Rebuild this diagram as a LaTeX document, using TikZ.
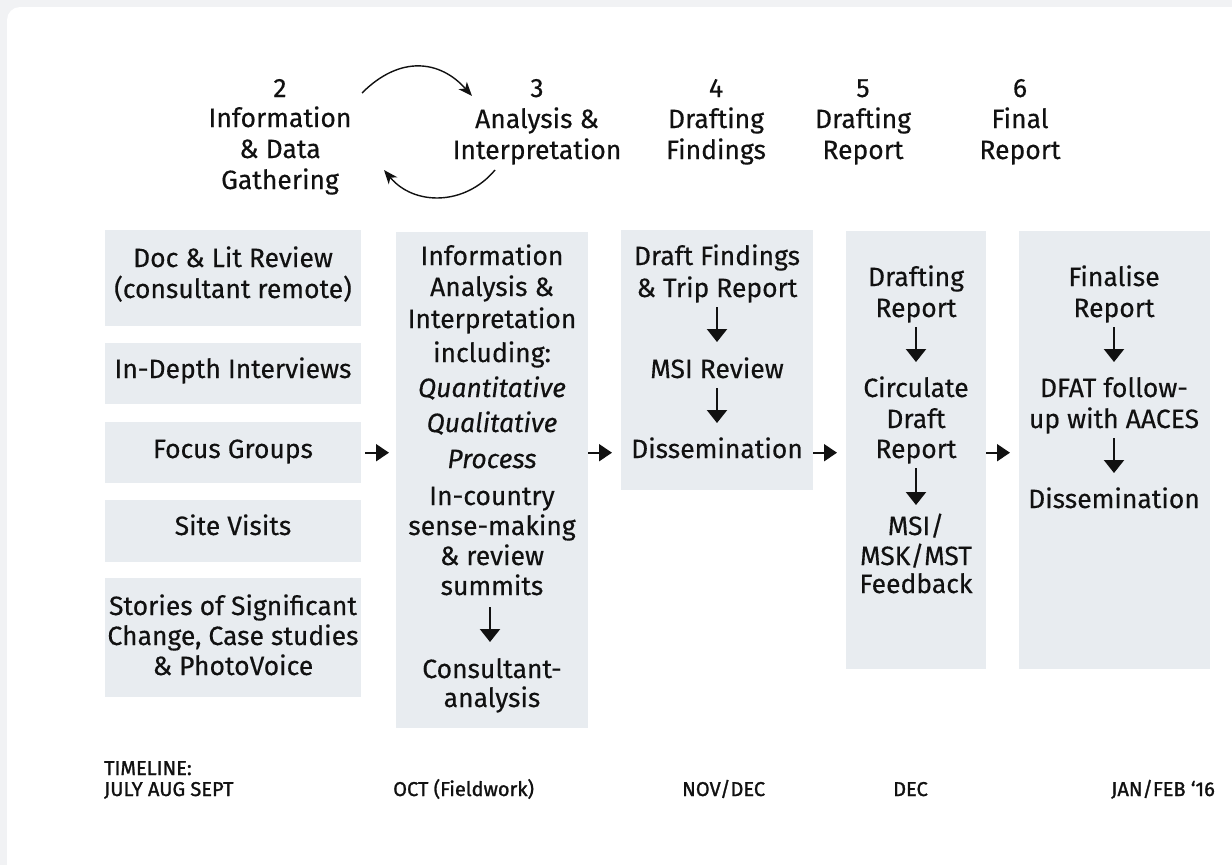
\documentclass[tikz,border=0pt]{standalone}
\usepackage{fontspec}
\setmainfont{Fira Sans}[FakeBold=0.35]
\newfontfamily\tlfont[FakeBold=1.3]{Fira Sans}
\usetikzlibrary{arrows.meta}
\definecolor{boxfill}{HTML}{E8ECF0}
\definecolor{outerbg}{HTML}{F1F2F4}
\definecolor{ink}{HTML}{111111}
\begin{document}
\begin{tikzpicture}[x=1pt,y=-1pt,
  box/.style={fill=boxfill, draw=none, inner sep=0pt, anchor=north west},
  txt/.style={font=\fontsize{26.5}{30}\selectfont, align=center, inner sep=0pt, anchor=base, text=ink},
  harrow/.style={draw=ink, line width=2pt, -{Triangle[length=13pt,width=17pt]}},
  varrow/.style={draw=ink, line width=2.2pt, -{Triangle[length=13pt,width=20pt]}},
  carrow/.style={draw=ink, line width=1.4pt, -{Stealth[length=14pt,width=11pt,inset=4pt]}},
  tl/.style={font=\tlfont\fontsize{20}{20}\selectfont, inner sep=0pt, anchor=base west, text=ink}
]
\useasboundingbox (0,0) rectangle (1232,865);
\fill[outerbg] (0,0) rectangle (1232,865);
\begin{scope}
\clip (0,0) rectangle (1232,865);
\fill[white, rounded corners=13pt] (7,7) rectangle (1250,880);
\end{scope}

% header (anchor = baseline of last line)
\node[txt] (h2) at (280,189) {2\\Information\\[1pt]\& Data\\[1pt]Gathering};
\node[txt] (h3) at (537,159) {3\\[1pt]Analysis \&\\[1pt]Interpretation};
\node[txt] (h4) at (716,159) {4\\[1pt]Drafting\\[1pt]Findings};
\node[txt] (h5) at (863,159) {5\\[1pt]Drafting\\[1pt]Report};
\node[txt] (h6) at (1020,159) {6\\[1pt]Final\\[1pt]Report};

\coordinate (ca1) at (362,93);
\coordinate (ca2) at (472,96);
\draw[carrow] (ca1) .. controls (400,55) and (440,60) .. (ca2);
\coordinate (cb1) at (495,170);
\coordinate (cb2) at (384,170);
\draw[carrow] (cb1) .. controls (465,206) and (414,206) .. (cb2);

% boxes
\node[box, minimum width=256pt, minimum height=96pt] (b1) at (105,230) {};
\node[box, minimum width=256pt, minimum height=61pt] (b2) at (105,343) {};
\node[box, minimum width=256pt, minimum height=61pt] (b3) at (105,422) {};
\node[box, minimum width=256pt, minimum height=62pt] (b4) at (105,500) {};
\node[box, minimum width=256pt, minimum height=119pt] (b5) at (105,578) {};
\node[box, minimum width=192pt, minimum height=496pt] (c2) at (396,232) {};
\node[box, minimum width=192pt, minimum height=260pt] (c3) at (621,230) {};
\node[box, minimum width=140pt, minimum height=438pt] (c4) at (846,231) {};
\node[box, minimum width=191pt, minimum height=438pt] (c5) at (1019,231) {};

% column 1 texts
\node[txt] (t1) at (233,298) {Doc \& Lit Review\\[1pt](consultant remote)};
\node[txt] (t2) at (233,378) {In-Depth Interviews};
\node[txt] (t3) at (233,458) {Focus Groups};
\node[txt] (t4) at (233,535) {Site Visits};
\node[txt] (t5) at (233,675) {Stories of Significant\\Change, Case studies\\\& PhotoVoice};

% column 2 texts
\node[txt] (u1) at (492,595) {Information\\[1pt]Analysis \&\\[2pt]Interpretation\\[4pt]including:\\[5pt]\textit{Quantitative}\\[5pt]\textit{Qualitative}\\[6pt]\textit{Process}\\[7pt]In-country\\sense-making\\\& review\\summits};
\node[txt] (u2) at (492,707) {Consultant-\\[-1pt]analysis};
\coordinate (v0a) at (490,607);
\coordinate (v0b) at (490,642);
\draw[varrow] (v0a) -- (v0b);

% column 3 texts
\node[txt] (d1) at (717,297) {Draft Findings\\[2pt]\& Trip Report};
\node[txt] (d2) at (717,378) {MSI Review};
\node[txt] (d3) at (717,458) {Dissemination};
\coordinate (v1a) at (717,307);
\coordinate (v1b) at (717,342);
\coordinate (v2a) at (717,388);
\coordinate (v2b) at (717,423);
\draw[varrow] (v1a) -- (v1b);
\draw[varrow] (v2a) -- (v2b);

% column 4 texts
\node[txt] (r1) at (916,317) {Drafting\\[1pt]Report};
\node[txt] (r2) at (916,458) {Circulate\\[1pt]Draft\\Report};
\node[txt] (r3) at (916,593) {MSI/\\MSK/MST\\[-2pt]Feedback};
\coordinate (v3a) at (916,327);
\coordinate (v3b) at (916,362);
\coordinate (v4a) at (916,468);
\coordinate (v4b) at (916,505);
\draw[varrow] (v3a) -- (v3b);
\draw[varrow] (v4a) -- (v4b);

% column 5 texts
\node[txt] (f1) at (1114,317) {Finalise\\[1pt]Report};
\node[txt] (f2) at (1114,428) {DFAT follow-\\[1pt]up with AACES};
\node[txt] (f3) at (1114,508) {Dissemination};
\coordinate (v5a) at (1114,327);
\coordinate (v5b) at (1114,362);
\coordinate (v6a) at (1114,438);
\coordinate (v6b) at (1114,473);
\draw[varrow] (v5a) -- (v5b);
\draw[varrow] (v6a) -- (v6b);

% horizontal arrows
\draw[harrow, shorten <=4pt, shorten >=7pt] (b3.east) -- (b3.east -| c2.west);
\draw[harrow, shorten >=9pt] (b3.east -| c2.east) -- (b3.east -| c3.west);
\draw[harrow, shorten >=9pt] (b3.east -| c3.east) -- (b3.east -| c4.west);
\draw[harrow, shorten >=9pt] (b3.east -| c4.east) -- (b3.east -| c5.west);

% timeline
\node[tl] (tl0) at (104,775) {TIMELINE:};
\node[tl] (tl1) at (104,796) {JULY AUG SEPT};
\node[tl] (tl2) at (393,796) {OCT (Fieldwork)};
\node[tl] (tl3) at (682,796) {NOV/DEC};
\node[tl] (tl4) at (893,796) {DEC};
\node[tl, anchor=base east] (tl5) at (1215,796) {JAN/FEB ‘16};
\end{tikzpicture}
\end{document}
